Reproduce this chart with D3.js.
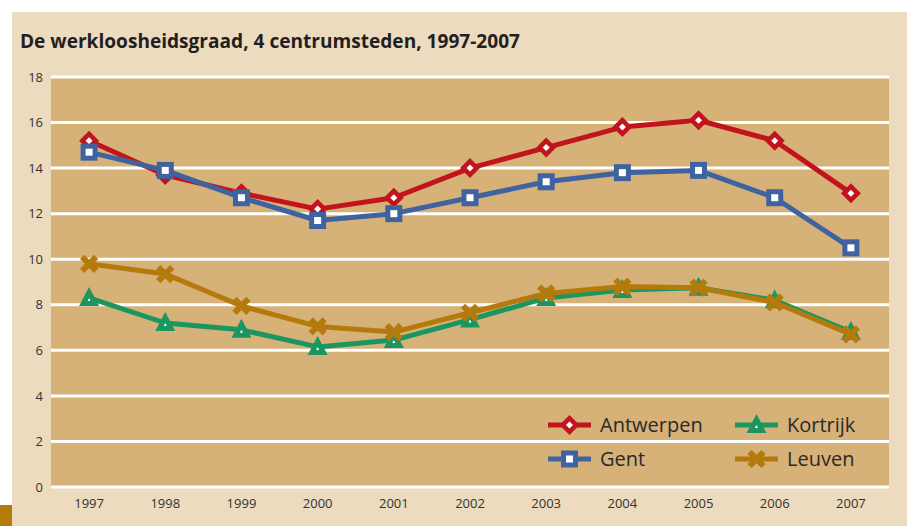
<!DOCTYPE html>
<html>
<head>
<meta charset="utf-8">
<script src="https://cdn.jsdelivr.net/npm/d3@7"></script>
<style>
  html, body { margin: 0; padding: 0; background: #fff; }
  svg { display: block; font-family: "Open Sans", "Noto Sans", sans-serif; }
</style>
</head>
<body>
<svg id="chart" width="907" height="526"></svg>
<script>
// data
var years = ['1997','1998','1999','2000','2001','2002','2003','2004','2005','2006','2007'];
var antwerpen = [15.2, 13.7, 12.9, 12.2, 12.7, 14.0, 14.9, 15.8, 16.1, 15.2, 12.9];
var gent      = [14.7, 13.9, 12.7, 11.7, 12.0, 12.7, 13.4, 13.8, 13.9, 12.7, 10.5];
var kortrijk  = [8.3, 7.2, 6.9, 6.15, 6.45, 7.35, 8.3, 8.65, 8.75, 8.2, 6.8];
var leuven    = [9.8, 9.35, 7.95, 7.05, 6.8, 7.65, 8.5, 8.8, 8.75, 8.1, 6.7];
var yTicks = [0, 2, 4, 6, 8, 10, 12, 14, 16, 18];

var series = [
  {name: 'Antwerpen', values: antwerpen, color: '#c1141d', marker: 'diamond'},
  {name: 'Gent',      values: gent,      color: '#3e63a0', marker: 'square'},
  {name: 'Kortrijk',  values: kortrijk,  color: '#1c9661', marker: 'triangle'},
  {name: 'Leuven',    values: leuven,    color: '#b47b0c', marker: 'cross'}
];

var svg = d3.select('#chart');

// background panels
svg.append('rect').attr('x', 12).attr('y', 12).attr('width', 895).attr('height', 514).attr('fill', '#ecdbbe');
svg.append('rect').attr('x', 0).attr('y', 505).attr('width', 12).attr('height', 21).attr('fill', '#b47b0c');

svg.append('text')
  .attr('x', 20).attr('y', 48)
  .attr('font-size', 20).attr('font-weight', 700)
  .attr('fill', '#231f20')
  .attr('textLength', 500).attr('lengthAdjust', 'spacingAndGlyphs')
  .text('De werkloosheidsgraad, 4 centrumsteden, 1997-2007');

var plotLeft = 51, plotRight = 889, plotTop = 77, plotBottom = 487;

var x = d3.scaleBand().domain(years).range([plotLeft, plotRight]);
var y = d3.scaleLinear().domain([0, 18]).range([plotBottom, plotTop]);
var cx = function(d) { return x(d) + x.bandwidth() / 2; };

svg.append('rect').attr('x', plotLeft).attr('y', plotTop)
  .attr('width', plotRight - plotLeft).attr('height', plotBottom - plotTop).attr('fill', '#d6b178');

// gridlines
svg.append('g').selectAll('line').data(yTicks).join('line')
  .attr('x1', plotLeft).attr('x2', plotRight)
  .attr('y1', function(d) { return y(d); }).attr('y2', function(d) { return y(d); })
  .attr('stroke', '#fff').attr('stroke-width', 3);

// axes
var yAxis = svg.append('g').attr('transform', 'translate(' + plotLeft + ',0)')
  .call(d3.axisLeft(y).tickValues(yTicks).tickSize(0).tickPadding(8));
var xAxis = svg.append('g').attr('transform', 'translate(0,' + plotBottom + ')')
  .call(d3.axisBottom(x).tickSize(0).tickPadding(12));
[yAxis, xAxis].forEach(function(a) {
  a.select('.domain').remove();
  a.selectAll('text').attr('font-size', 13).attr('fill', '#333').attr('font-family', '"Open Sans", sans-serif');
});

function drawMarker(g, type, color) {
  if (type === 'diamond') {
    g.append('path').attr('d', 'M0,-10L10,0L0,10L-10,0Z').attr('fill', color);
    g.append('path').attr('d', 'M0,-3.5L3.5,0L0,3.5L-3.5,0Z').attr('fill', '#fff');
  } else if (type === 'square') {
    g.append('rect').attr('x', -8.5).attr('y', -8.5).attr('width', 17).attr('height', 17).attr('fill', color);
    g.append('rect').attr('x', -3.5).attr('y', -3.5).attr('width', 7).attr('height', 7).attr('fill', '#fff');
  } else if (type === 'triangle') {
    g.append('path').attr('d', 'M0,-11L10,8L-10,8Z').attr('fill', color);
    g.append('path').attr('d', 'M0,0L1.5,3L-1.5,3Z').attr('fill', '#fff');
  } else {
    g.append('path').attr('d', 'M-7,-7L7,7M7,-7L-7,7').attr('stroke', color).attr('stroke-width', 6);
  }
}

var line = d3.line().x(function(d, i) { return cx(years[i]); }).y(function(d) { return y(d); });

series.forEach(function(s) {
  var g = svg.append('g');
  g.append('path').datum(s.values).attr('d', line)
    .attr('fill', 'none').attr('stroke', s.color).attr('stroke-width', 5).attr('stroke-linejoin', 'round');
  g.selectAll('g.pt').data(s.values).join('g').attr('class', 'pt')
    .attr('transform', function(d, i) { return 'translate(' + cx(years[i]) + ',' + y(d) + ')'; })
    .each(function() { drawMarker(d3.select(this), s.marker, s.color); });
});

// legend
var legendPos = [[548, 425], [548, 459], [735, 425], [735, 459]];
series.forEach(function(s, i) {
  var lg = svg.append('g').attr('transform', 'translate(' + legendPos[i][0] + ',' + legendPos[i][1] + ')');
  lg.append('line').attr('x1', 0).attr('x2', 43).attr('stroke', s.color).attr('stroke-width', 5);
  var m = lg.append('g').attr('transform', 'translate(21.5,0)');
  drawMarker(m, s.marker, s.color);
  lg.append('text').attr('x', 52).attr('y', 7).attr('font-size', 20).attr('fill', '#2a2a2a').text(s.name);
});
</script>
</body>
</html>
